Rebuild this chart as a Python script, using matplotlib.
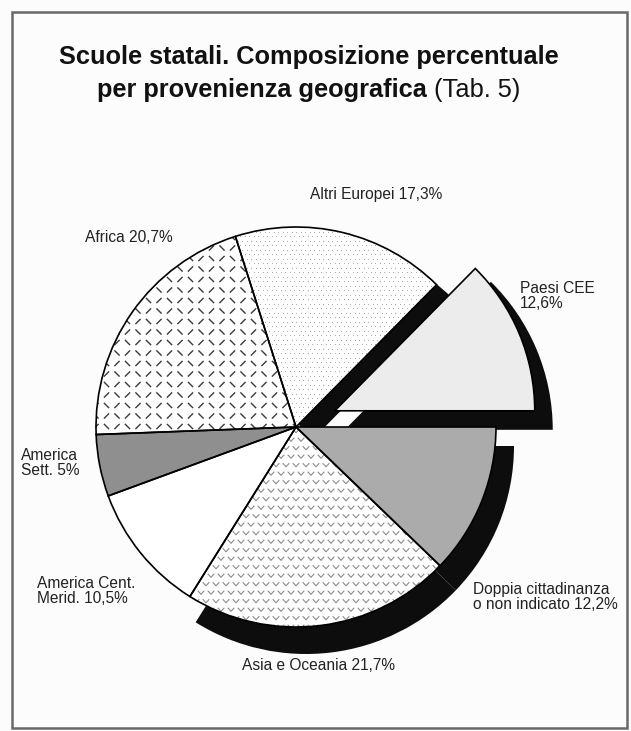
import numpy as np
import matplotlib.pyplot as plt
from matplotlib.patches import Wedge, Rectangle
from matplotlib.collections import LineCollection

plt.rcParams['font.family'] = ['Liberation Sans', 'DejaVu Sans']

# slices listed clockwise, starting at 3 o'clock
names = ['Doppia cittadinanza\no non indicato', 'Asia e Oceania',
         'America Cent.\nMerid.', 'America\nSett.', 'Africa',
         'Altri Europei', 'Paesi CEE']
shares = [12.2, 21.7, 10.5, 5.0, 20.7, 17.3, 12.6]
name_sep = [' ', ' ', ' ', ' ', ' ', ' ', '\n']
fills = ['#ababab', 'white', 'white', '#8f8f8f', 'white', 'white', '#ececec']
exploded = [False, False, False, False, False, False, True]
shadowed = [True, True, False, False, False, True, True]

# label anchor (x, y), horizontal alignment
label_pos = [(473, 597, 'left'), (318, 666, 'center'), (37, 591, 'left'),
             (21, 463, 'left'), (85, 237, 'left'), (310, 194, 'left'),
             (520, 296, 'left')]

W, H = 631, 731
cx, cy, R = 296, 427, 200
explode_d = 42
sh_dx, sh_dy, sh_dr = 10, 19, 8

fig = plt.figure(figsize=(W / 100, H / 100), dpi=100)
fig.patch.set_facecolor('#fcfcfc')
ax = fig.add_axes([0, 0, 1, 1])
ax.set_xlim(0, W)
ax.set_ylim(H, 0)
ax.set_aspect('equal')
ax.axis('off')

ax.add_patch(Rectangle((12, 12), 615, 716, fill=False, edgecolor='#6a6a6a', lw=1.8))

bounds = np.concatenate([[0], np.cumsum(shares)]) * 3.6


def africa_dashes():
    segs = []
    step, d = 10.5, 2.6
    for i, x in enumerate(np.arange(cx - R, cx + R, step)):
        for j, y in enumerate(np.arange(cy - R, cy + R, step)):
            if (i + j) % 2:
                segs.append([(x - d, y + d), (x + d, y - d)])
            else:
                segs.append([(x - d, y - d), (x + d, y + d)])
    return LineCollection(segs, colors='#3a3a3a', linewidths=1.0)


def asia_chevrons():
    segs = []
    for j, y in enumerate(np.arange(cy - R, cy + R + 10, 8.5)):
        off = 5 if j % 2 else 0
        for x in np.arange(cx - R + off, cx + R, 10):
            segs.append([(x - 3.3, y - 1.8), (x, y + 1.8), (x + 3.3, y - 1.8)])
    return LineCollection(segs, colors='#8c8c8c', linewidths=0.8)


def stipple():
    pts = []
    for j, y in enumerate(np.arange(cy - R, cy + R, 4.5)):
        off = 2.25 if j % 2 else 0
        for x in np.arange(cx - R + off, cx + R, 4.5):
            pts.append((x, y))
    return np.array(pts)


for k in range(len(shares)):
    t1, t2 = bounds[k], bounds[k + 1]
    mid = np.radians((t1 + t2) / 2)
    ox, oy = 0.0, 0.0
    if exploded[k]:
        ox, oy = explode_d * np.cos(mid), explode_d * np.sin(mid)
    centre = (cx + ox, cy + oy)

    if shadowed[k]:
        ax.add_patch(Wedge((centre[0] + sh_dx, centre[1] + sh_dy), R + sh_dr, t1, t2,
                           facecolor='#0d0d0d', edgecolor='none', zorder=1))

    w = Wedge(centre, R, t1, t2, facecolor=fills[k], edgecolor='none', zorder=2)
    ax.add_patch(w)

    if names[k] == 'Africa':
        lc = africa_dashes()
        lc.set_zorder(3)
        ax.add_collection(lc)
        lc.set_clip_path(w)
    elif names[k] == 'Asia e Oceania':
        lc = asia_chevrons()
        lc.set_zorder(3)
        ax.add_collection(lc)
        lc.set_clip_path(w)
    elif names[k] == 'Altri Europei':
        p = stipple()
        sc = ax.scatter(p[:, 0], p[:, 1], s=0.6, c='#a0a0a0', linewidths=0, zorder=3)
        sc.set_clip_path(w)

    ax.add_patch(Wedge(centre, R, t1, t2, facecolor='none', edgecolor='black',
                       lw=1.2, zorder=4))

    pct = f'{shares[k]:g}'.replace('.', ',')
    lx, ly, ha = label_pos[k]
    ax.text(lx, ly, f'{names[k]}{name_sep[k]}{pct}%', ha=ha, va='center',
            fontsize=11.2, color='#222222', linespacing=1.05)

ax.text(309, 57, 'Scuole statali. Composizione percentuale', ha='center',
        va='center', fontsize=18.3, fontweight='bold', color='#111111')

t_bold = ax.text(0, 90, 'per provenienza geografica', ha='left', va='center',
                 fontsize=18.3, fontweight='bold', color='#111111')
t_norm = ax.text(0, 90, ' (Tab. 5)', ha='left', va='center',
                 fontsize=18.3, color='#111111')
fig.canvas.draw()
r = fig.canvas.get_renderer()
wb = t_bold.get_window_extent(r).width
wn = t_norm.get_window_extent(r).width
x0 = 309 - (wb + wn) / 2
t_bold.set_x(x0)
t_norm.set_x(x0 + wb)

fig.savefig('out.png', dpi=100, facecolor=fig.get_facecolor())
